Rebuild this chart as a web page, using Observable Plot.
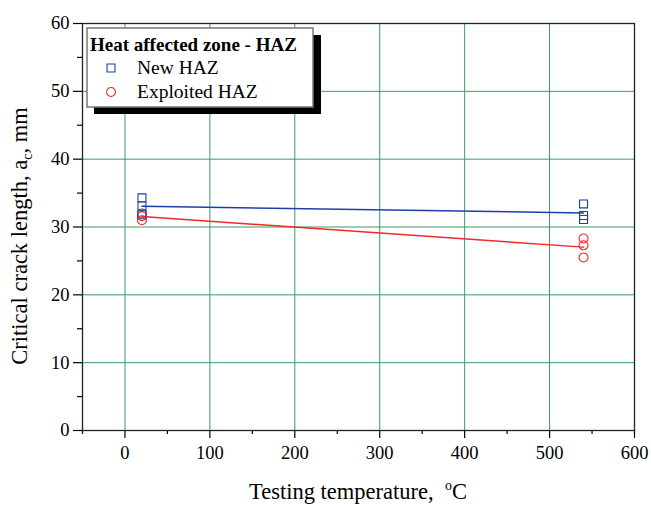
<!DOCTYPE html>
<html>
<head>
<meta charset="utf-8">
<script src="https://cdn.jsdelivr.net/npm/d3@7"></script>
<script src="https://cdn.jsdelivr.net/npm/@observablehq/plot@0.6"></script>
<style>
  html, body { margin: 0; padding: 0; background: white; }
  #chart { width: 651px; height: 505px; }
</style>
</head>
<body>
<div id="chart"></div>
<script>
// ---- data ----
const temperatures = [20, 20, 20, 540, 540, 540];
const newHAZ = [34.3, 33.1, 31.8, 33.4, 31.7, 31.1];
const exploitedHAZ = [32.0, 31.6, 31.0, 28.3, 27.3, 25.5];
const seriesNames = ["New HAZ", "Exploited HAZ"];
const seriesColors = ["#1f3fa8", "#f02828"];
const seriesSymbols = ["square", "circle"];
const xTicks = [0, 100, 200, 300, 400, 500, 600];
const xMinorTicks = [-50, 50, 150, 250, 350, 450, 550];
const yTicks = [0, 10, 20, 30, 40, 50, 60];
const yMinorTicks = [5, 15, 25, 35, 45, 55];
const legendTitle = "Heat affected zone - HAZ";

const rows = [];
temperatures.forEach((t, i) => {
  rows.push({series: seriesNames[0], x: t, y: newHAZ[i]});
  rows.push({series: seriesNames[1], x: t, y: exploitedHAZ[i]});
});

const grid = "#3a9c62";
const font = "Liberation Serif, Times New Roman, serif";

const plot = Plot.plot({
  width: 651,
  height: 505,
  marginLeft: 82,
  marginRight: 17,
  marginTop: 23,
  marginBottom: 75,
  style: {fontFamily: font, fontSize: "18.5px", background: "white", color: "black"},
  x: {domain: [-50, 600]},
  y: {domain: [0, 60]},
  color: {domain: seriesNames, range: seriesColors},
  symbol: {domain: seriesNames, range: seriesSymbols},
  marks: [
    Plot.gridX(xTicks.filter(d => d > -50 && d < 600), {stroke: grid, strokeOpacity: 1, strokeWidth: 1}),
    Plot.gridY(yTicks.filter(d => d > 0 && d < 60), {stroke: grid, strokeOpacity: 1, strokeWidth: 1}),
    Plot.axisX(xTicks, {tickSize: 8, tickPadding: 7, label: null, tickFormat: d => d, stroke: "black", strokeWidth: 1.2}),
    Plot.axisX(xMinorTicks, {tickSize: 4, text: null, label: null, stroke: "black", strokeWidth: 1.2}),
    Plot.axisY(yTicks, {tickSize: 9, tickPadding: 4, label: null, tickFormat: d => d, stroke: "black", strokeWidth: 1.2}),
    Plot.axisY(yMinorTicks, {tickSize: 5, text: null, label: null, stroke: "black", strokeWidth: 1.2}),
    Plot.frame({stroke: "#222", strokeWidth: 1.3}),
    Plot.linearRegressionY(rows, {x: "x", y: "y", stroke: "series", ci: 0, strokeWidth: 1.5}),
    Plot.dot(rows, {x: "x", y: "y", stroke: "series", symbol: "series", r: 4.5, strokeWidth: 1.1, fill: "none"})
  ]
});

document.getElementById("chart").appendChild(plot);

const svg = d3.select(plot);

// axis labels with sub/superscripts
const yl = svg.append("text")
  .attr("transform", "translate(27,236) rotate(-90)")
  .attr("text-anchor", "middle")
  .attr("font-family", font)
  .attr("font-size", 22.5)
  .attr("fill", "black");
yl.append("tspan").text("Critical crack length, a");
yl.append("tspan").attr("font-size", 14).attr("dy", 5).text("c");
yl.append("tspan").attr("dy", -5).text(", mm");

const xl = svg.append("text")
  .attr("x", 358).attr("y", 499)
  .attr("text-anchor", "middle")
  .attr("font-family", font)
  .attr("font-size", 22.5)
  .attr("fill", "black");
xl.append("tspan").text("Testing temperature,\u00a0\u00a0");
xl.append("tspan").attr("font-size", 14).attr("dy", -9).text("o");
xl.append("tspan").attr("dy", 9).text("C");

// legend box
const lg = svg.append("g").attr("text-anchor", "start");
lg.append("rect").attr("x", 94).attr("y", 35).attr("width", 227).attr("height", 79).attr("fill", "black");
lg.append("rect").attr("x", 87).attr("y", 28).attr("width", 226).attr("height", 79)
  .attr("fill", "white").attr("stroke", "#777").attr("stroke-width", 1.5);
lg.append("text").attr("x", 90).attr("y", 51)
  .attr("text-anchor", "start")
  .attr("font-family", font).attr("font-size", 19).attr("font-weight", "bold").attr("fill", "black")
  .text(legendTitle);
seriesNames.forEach((name, i) => {
  const cy = 68 + i * 24;
  const sym = seriesSymbols[i] === "square" ? d3.symbolSquare : d3.symbolCircle;
  lg.append("path")
    .attr("d", d3.symbol(sym, 4.5 * 4.5 * Math.PI)())
    .attr("transform", `translate(111,${cy})`)
    .attr("fill", "none").attr("stroke", seriesColors[i]).attr("stroke-width", 1.1);
  lg.append("text").attr("x", 137).attr("y", cy + 6)
    .attr("text-anchor", "start")
    .attr("font-family", font).attr("font-size", 19.5).attr("fill", "black")
    .text(name);
});
</script>
</body>
</html>
